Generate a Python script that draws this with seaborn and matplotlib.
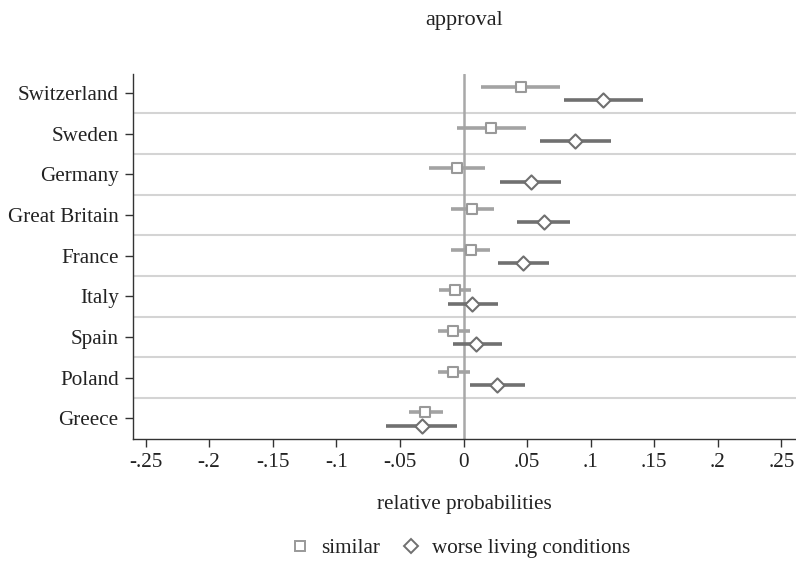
import matplotlib
matplotlib.use("Agg")
import matplotlib.pyplot as plt
import seaborn as sns
import pandas as pd
import numpy as np
from matplotlib.lines import Line2D

countries = ["Switzerland", "Sweden", "Germany", "Great Britain", "France",
             "Italy", "Spain", "Poland", "Greece"]

similar_est = [0.045, 0.022, -0.005, 0.007, 0.006, -0.007, -0.008, -0.008, -0.030]
similar_lo = [0.014, -0.005, -0.027, -0.010, -0.010, -0.019, -0.020, -0.020, -0.043]
similar_hi = [0.076, 0.049, 0.017, 0.024, 0.021, 0.006, 0.005, 0.005, -0.016]

worse_est = [0.110, 0.088, 0.053, 0.063, 0.047, 0.007, 0.010, 0.026, -0.033]
worse_lo = [0.079, 0.060, 0.029, 0.042, 0.027, -0.012, -0.008, 0.005, -0.061]
worse_hi = [0.141, 0.116, 0.077, 0.084, 0.067, 0.027, 0.030, 0.048, -0.005]

xticks = [-0.25, -0.2, -0.15, -0.1, -0.05, 0, 0.05, 0.1, 0.15, 0.2, 0.25]
xticklabels = ["-.25", "-.2", "-.15", "-.1", "-.05", "0", ".05", ".1", ".15", ".2", ".25"]

sns.set_theme(style="white")
plt.rcParams["font.family"] = ["Liberation Serif", "DejaVu Serif"]

FS = 15.2
c_sim = "#a3a3a3"
c_wor = "#707070"

idx = np.arange(len(countries))
df = pd.concat([
    pd.DataFrame({"country": countries, "pos": idx - 0.15, "est": similar_est,
                  "lo": similar_lo, "hi": similar_hi, "group": "similar"}),
    pd.DataFrame({"country": countries, "pos": idx + 0.18, "est": worse_est,
                  "lo": worse_lo, "hi": worse_hi, "group": "worse living conditions"}),
])

fig = plt.figure(figsize=(7.96, 5.64), dpi=100)
ax = fig.add_axes([0.1665, 0.2216, 0.8335, 0.6472])

# separators
for k in range(len(countries) - 1):
    ax.axhline(k + 0.5, color="#d4d4d4", lw=1.5, zorder=1)
ax.axvline(0, color="#a8a8a8", lw=1.8, zorder=2)

for grp, col in [("similar", c_sim), ("worse living conditions", c_wor)]:
    d = df[df.group == grp]
    ax.hlines(d["pos"], d["lo"], d["hi"], color=col, lw=2.6, zorder=3)

sns.scatterplot(data=df[df.group == "similar"], x="est", y="pos", marker="s",
                s=52, facecolor="white", edgecolor="#999999", linewidth=1.5,
                ax=ax, zorder=4, legend=False)
sns.scatterplot(data=df[df.group == "worse living conditions"], x="est", y="pos",
                marker="D", s=52, facecolor="white", edgecolor=c_wor, linewidth=1.5,
                ax=ax, zorder=4, legend=False)

ax.set_xlim(-0.2602, 0.2614)
ax.set_ylim(8.51, -0.47)
ax.set_yticks(idx)
ax.set_yticklabels(countries, fontsize=FS, color="#222222")
ax.set_xticks(xticks)
ax.set_xticklabels(xticklabels, fontsize=FS, color="#222222")
ax.tick_params(axis="both", direction="out", length=6, width=1, color="#333333",
               left=True, bottom=True, pad=4)
for s in ["top", "right"]:
    ax.spines[s].set_visible(False)
for s in ["left", "bottom"]:
    ax.spines[s].set_color("#333333")
    ax.spines[s].set_linewidth(1.0)

ax.set_xlabel("")
ax.set_ylabel("")
fig.text(0.583, 1 - 20 / 564, "approval", ha="center", va="center", fontsize=FS + 0.8,
         color="#222222")
fig.text(0.583, 1 - 505 / 564, "relative probabilities", ha="center", va="center",
         fontsize=FS, color="#222222")

handles = [
    Line2D([], [], marker="s", ls="none", markersize=7, markerfacecolor="white",
           markeredgecolor="#999999", markeredgewidth=1.4),
    Line2D([], [], marker="D", ls="none", markersize=7, markerfacecolor="white",
           markeredgecolor=c_wor, markeredgewidth=1.4),
]
fig.legend(handles, ["similar", "worse living conditions"], loc="center",
           bbox_to_anchor=(460 / 796, 1 - 548 / 564), ncol=2, frameon=False,
           fontsize=FS, handlelength=1.0, handletextpad=0.5, columnspacing=0.95,
           labelcolor="#222222")

fig.savefig("out.png", dpi=100)
